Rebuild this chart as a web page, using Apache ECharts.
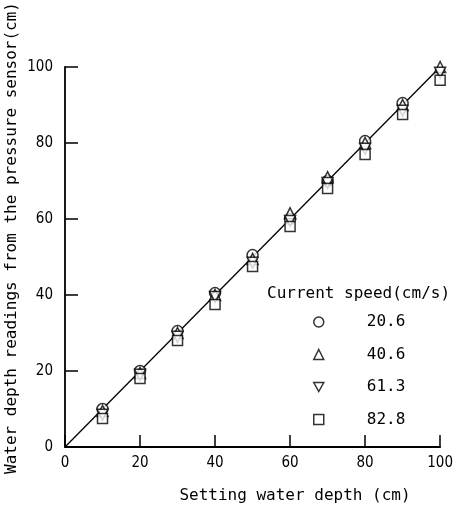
<!DOCTYPE html>
<html><head><meta charset="utf-8">
<script src="https://cdn.jsdelivr.net/npm/echarts@6/dist/echarts.min.js"></script>
<style>html,body{margin:0;padding:0;background:#fff}#c{width:456px;height:505px}</style>
</head><body><div id="c"></div>
<script>
const depths = [10, 20, 30, 40, 50, 60, 70, 80, 90, 100];
const speeds = ['20.6', '40.6', '61.3', '82.8'];
const s206 = [10, 20, 30.5, 40.5, 50.5, 60, 70, 80.5, 90.5, 100.5];
const s406 = [9.5, 19.5, 30, 40, 49.5, 61.5, 71, 80, 90, 100];
const s613 = [8.5, 19, 29, 39.5, 48.5, 59.5, 69.5, 78.5, 88.5, 98.5];
const s828 = [7.5, 18, 28, 37.5, 47.5, 58, 68, 77, 87.5, 96.5];
const lineX = [0, 100];
const ticks = [0, 20, 40, 60, 80, 100];

const mono = 'DejaVu Sans Mono';
const narrow = 'Liberation Sans Narrow, DejaVu Sans Condensed, sans-serif';
const symbols = ['circle', 'triangle', 'path://M0,0L10,0L5,9Z', 'rect'];
const values = [s206, s406, s613, s828];

const chart = echarts.init(document.getElementById('c'));
const series = speeds.map((name, i) => ({
  name, type: 'scatter', symbol: symbols[i], symbolSize: i === 3 ? 10 : 11,
  itemStyle: { color: '#fff', borderColor: '#000', borderWidth: 1.5 },
  data: depths.map((d, j) => [d, values[i][j]]), z: 3
}));
series.push({
  type: 'line', data: lineX.map(v => [v, v]), symbol: 'none',
  lineStyle: { color: '#000', width: 1.3 }, z: 2, silent: true
});
chart.setOption({
  animation: false,
  grid: { left: 65, right: 10, top: 67, bottom: 58 },
  xAxis: {
    type: 'value', min: 0, max: 100, interval: 20,
    axisLine: { lineStyle: { color: '#000', width: 1.8 } },
    axisTick: { inside: true, length: 12, lineStyle: { color: '#000', width: 1.5 } },
    axisLabel: { color: '#000', fontFamily: narrow, fontSize: 15, margin: 9 },
    splitLine: { show: false }
  },
  yAxis: {
    type: 'value', min: 0, max: 100, interval: 20,
    axisLine: { show: true, lineStyle: { color: '#000', width: 1.8 } },
    axisTick: { show: true, inside: true, length: 13, lineStyle: { color: '#000', width: 1.5 } },
    axisLabel: { color: '#000', fontFamily: narrow, fontSize: 15, margin: 12 },
    splitLine: { show: false }
  },
  legend: {
    orient: 'vertical', left: 308, top: 309, itemWidth: 10, itemHeight: 10, itemGap: 16.5,
    data: speeds.map((n, i) => ({ name: n, icon: symbols[i] })),
    itemStyle: { color: '#fff', borderColor: '#000', borderWidth: 1.5 },
    textStyle: { color: '#000', fontFamily: mono, fontSize: 16, padding: [0, 0, 0, 38] }
  },
  graphic: [
    { type: 'text', left: 267, top: 286, style: { text: 'Current speed(cm/s)', font: '16px ' + mono, fill: '#000' } },
    { type: 'text', x: 295, y: 496, style: { text: 'Setting water depth (cm)', font: '16px ' + mono, fill: '#000', align: 'center', verticalAlign: 'middle' } },
    { type: 'text', x: 12, y: 238, rotation: Math.PI / 2, style: { text: 'Water depth readings from the pressure sensor(cm)', font: '16px ' + mono, fill: '#000', align: 'center', verticalAlign: 'middle' } }
  ],
  series
});
</script></body></html>
